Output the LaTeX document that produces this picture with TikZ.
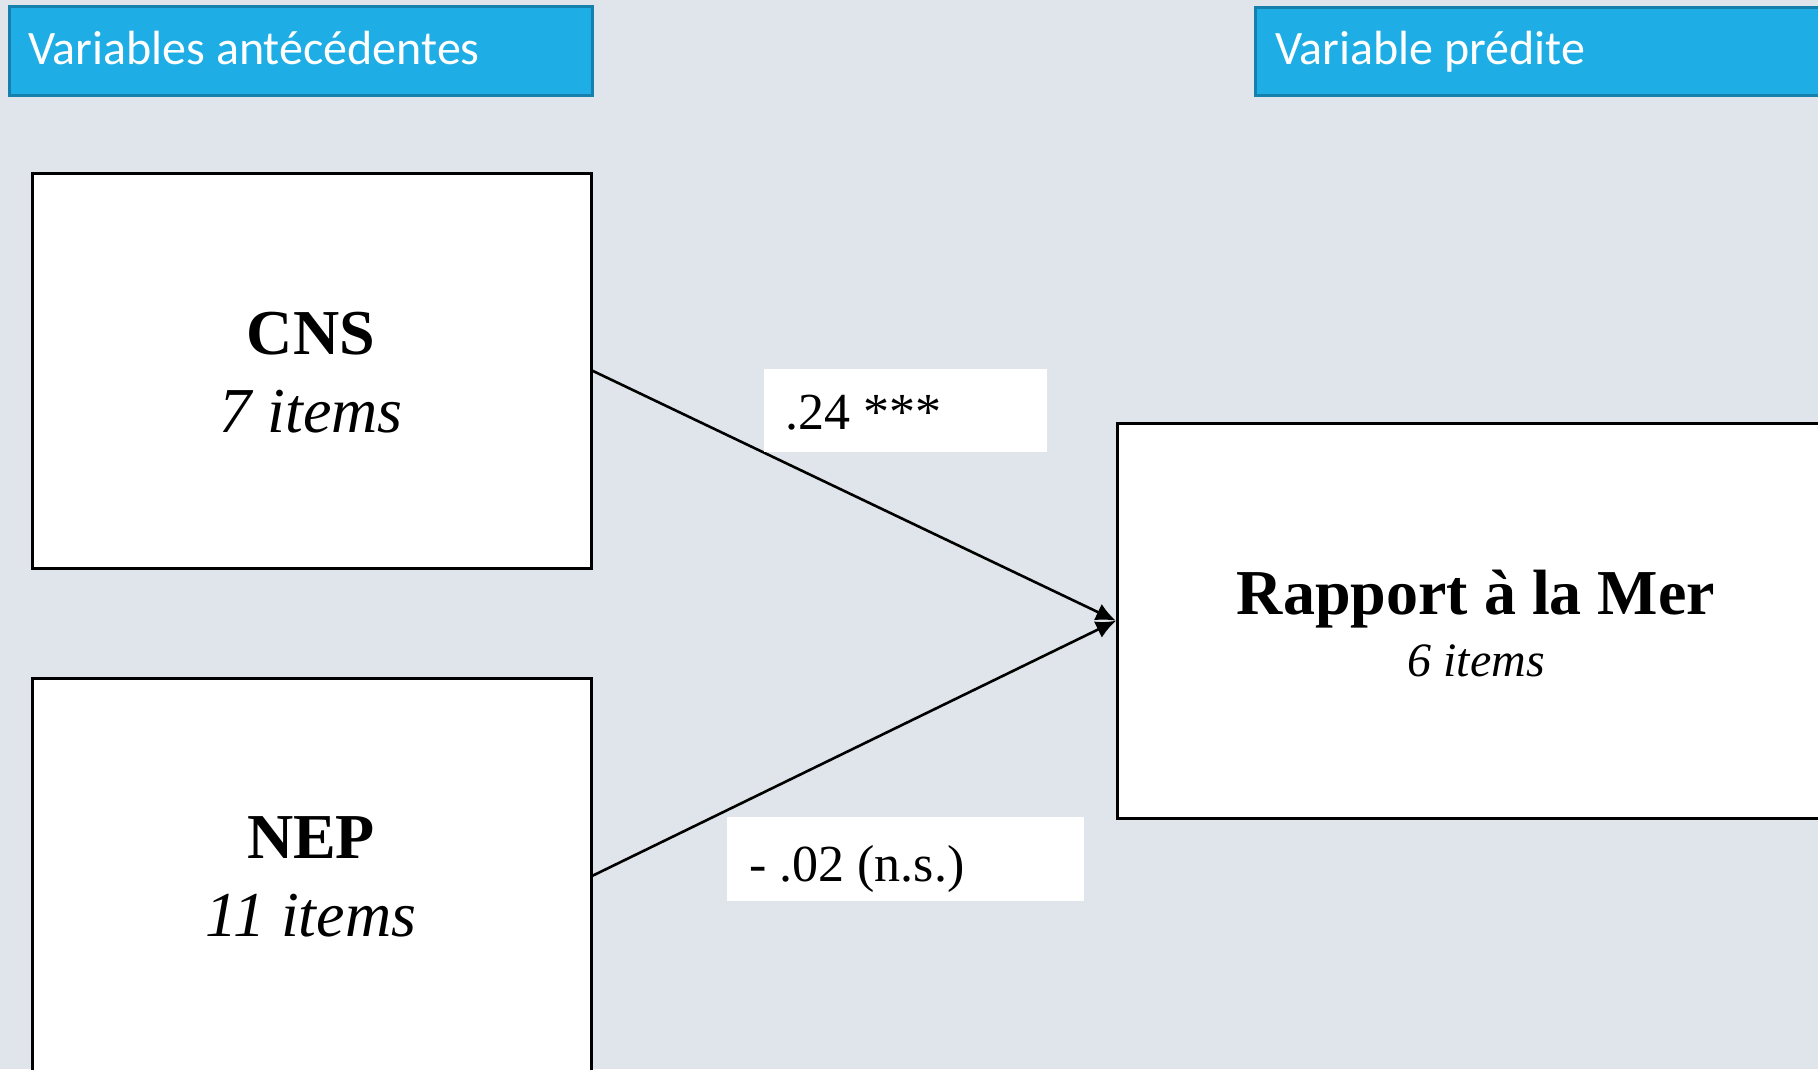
\documentclass[tikz,border=0pt]{standalone}
\usepackage{fontspec}
\setmainfont{Liberation Serif}
\newfontfamily\calfont{Carlito}
\usetikzlibrary{arrows.meta}
\definecolor{bgc}{HTML}{DFE5EA}
\definecolor{hdrfill}{HTML}{1EAEE5}
\definecolor{hdrline}{HTML}{1680AC}
\tikzset{
  hdrbox/.style={draw=hdrline, line width=2.5pt, fill=hdrfill, inner sep=0pt},
  hdrtext/.style={anchor=base west, text=white, inner sep=0pt, font=\calfont\fontsize{48}{48}\selectfont},
  varbox/.style={draw=black, line width=2.5pt, fill=white, inner sep=0pt},
  bigtext/.style={anchor=base, inner sep=0pt, font=\bfseries\fontsize{64}{64}\selectfont},
  itemtext/.style={anchor=base, inner sep=0pt, font=\itshape\fontsize{64}{64}\selectfont},
  coeffbox/.style={fill=white, inner sep=0pt},
  coefftext/.style={anchor=base west, inner sep=0pt, font=\fontsize{52}{52}\selectfont},
  pathline/.style={draw=black, line width=2.6pt, -{Latex[length=20pt,width=18pt]}}
}
\begin{document}
\begin{tikzpicture}[x=1pt,y=-1pt]
\useasboundingbox (0,0) rectangle (1818,1069);
\clip (0,0) rectangle (1818,1069);
\fill[bgc] (0,0) rectangle (1818,1069);
% headers
\node[hdrbox, minimum width=583pt, minimum height=89pt, anchor=north west] (h1) at (8,5) {};
\node[hdrtext] (h1t) at (28,64) {Variables antécédentes};
\node[hdrbox, minimum width=600pt, minimum height=88pt, anchor=north west] (h2) at (1254,6) {};
\node[hdrtext] (h2t) at (1275,64) {Variable prédite};
% boxes
\node[varbox, minimum width=559pt, minimum height=395pt, anchor=north west] (cns) at (31,172) {};
\node[varbox, minimum width=559pt, minimum height=395pt, anchor=north west] (nep) at (31,677) {};
\node[varbox, minimum width=760pt, minimum height=395pt, anchor=north west] (rap) at (1116,422) {};
% texts
\node[bigtext] (cnst) at (311,354) {CNS};
\node[itemtext] (cnsi) at (311,432) {7 items};
\node[bigtext] (nept) at (311,858) {NEP};
\node[itemtext] (nepi) at (311,936) {11 items};
\node[bigtext] (rapt) at (1476,614) {Rapport à la Mer};
\node[itemtext, font=\itshape\fontsize{48}{48}\selectfont] (rapi) at (1476,676) {6 items};
% connectors
\coordinate (tip) at (rap.west);
\draw[pathline] (cns.east) -- (tip);
\draw[pathline] (nep.east) -- (tip);
% coefficients
\node[coeffbox, minimum width=283pt, minimum height=83pt, anchor=north west] (c1) at (764,369) {};
\node[coefftext] (c1t) at (785,429) {.24 ***};
\node[coeffbox, minimum width=357pt, minimum height=84pt, anchor=north west] (c2) at (727,817) {};
\node[coefftext] (c2t) at (749,881) {- .02 (n.s.)};
\end{tikzpicture}
\end{document}
